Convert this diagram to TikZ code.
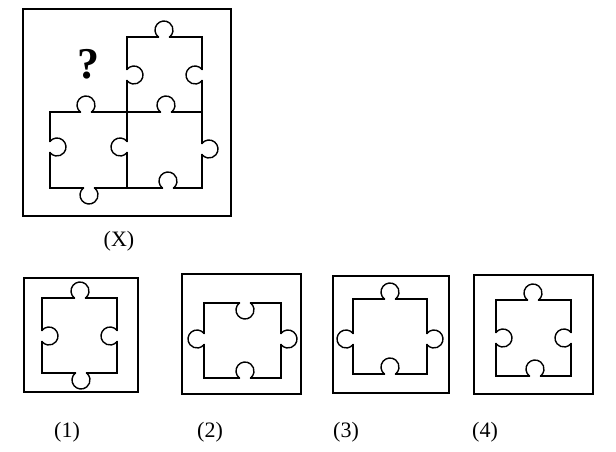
\documentclass[tikz,border=0pt]{standalone}
\usepackage{fontspec}
\setmainfont{Liberation Serif}
\newcommand\ku[2]{\draw (#1-5.66,#2) arc[start angle=129,end angle=411,radius=9];}
\newcommand\kd[2]{\draw (#1-5.66,#2) arc[start angle=231,end angle=-51,radius=9];}
\newcommand\kr[2]{\draw (#1,#2-5.66) arc[start angle=219,end angle=501,radius=9];}
\newcommand\kl[2]{\draw (#1,#2-5.66) arc[start angle=321,end angle=39,radius=9];}
\newcommand\hed[5]{\draw (#2,#1) -- (#4-5.66,#1) (#4+5.66,#1) -- (#3,#1); \csname k#5\endcsname{#4}{#1}}
\newcommand\ved[5]{\draw (#1,#2) -- (#1,#4-5.66) (#1,#4+5.66) -- (#1,#3); \csname k#5\endcsname{#1}{#4}}
\begin{document}
\begin{tikzpicture}[x=1pt,y=1pt,yscale=-1,line width=1.4pt,line cap=rect,
  lbl/.style={font=\fontsize{22}{26}\selectfont}]
\useasboundingbox (0,0) rectangle (616,452);
% main frame
\draw (23,9) rectangle (231,216);
\hed{37}{127}{202}{164}{u}
\ved{127}{37}{112}{75}{r}
\ved{127}{112}{188}{147}{l}
\ved{202}{37}{112}{75}{l}
\ved{202}{112}{188}{149}{r}
\hed{112}{50}{127}{86}{u}
\hed{112}{127}{202}{166}{u}
\ved{50}{112}{188}{147}{r}
\hed{188}{50}{127}{89}{d}
\hed{188}{127}{202}{168}{u}
\node[font=\fontsize{44}{48}\selectfont\bfseries] (q) at (88,64) {?};
\node[lbl] (X) at (119,241) {(X)};
% option 1
\draw (24,278) rectangle (138,392);
\hed{298}{42}{117}{80}{u}
\hed{373}{42}{117}{81}{d}
\ved{42}{298}{373}{336}{r}
\ved{117}{298}{373}{336}{l}
% option 2
\draw (182,274) rectangle (301,394);
\hed{303}{204}{281}{245}{d}
\hed{378}{204}{281}{245}{u}
\ved{204}{303}{378}{339}{l}
\ved{281}{303}{378}{339}{r}
% option 3
\draw (333,276) rectangle (449,393);
\hed{299}{353}{427}{390}{u}
\hed{374}{353}{427}{390}{u}
\ved{353}{299}{374}{339}{l}
\ved{427}{299}{374}{339}{r}
% option 4
\draw (474,275) rectangle (593,394);
\hed{300}{496}{571}{533}{u}
\hed{376}{496}{571}{535}{u}
\ved{496}{300}{376}{338}{r}
\ved{571}{300}{376}{338}{l}
\node[lbl] (o1) at (67,432) {(1)};
\node[lbl] (o2) at (210,432) {(2)};
\node[lbl] (o3) at (346,432) {(3)};
\node[lbl] (o4) at (485,432) {(4)};
\end{tikzpicture}
\end{document}
